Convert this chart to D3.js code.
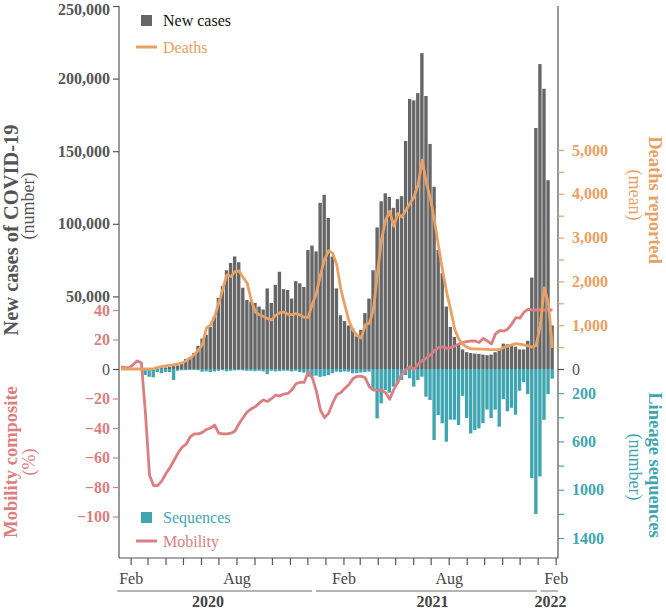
<!DOCTYPE html>
<html><head><meta charset="utf-8">
<script src="https://cdn.jsdelivr.net/npm/d3@7"></script>
<style>
body{margin:0;background:#fff}
svg{display:block}
text{font-family:"Liberation Serif","Times New Roman",serif}
</style>
</head><body>
<svg id="c" width="666" height="610"></svg>
<script>
// ---- data (weekly, weeks starting Sunday 2020-01-12) ----
const firstWeek = "2020-01-12";
const cases = [0,0,0,0,0,0,0,0,100,300,600,1000,1500,2000,2500,3500,7000,8000,11000,16000,
  21000,23500,29000,36000,49000,57000,68000,73000,77500,73500,56000,47500,46500,45500,43000,41000,
  55500,45500,58000,67000,55000,54500,48500,60500,59000,56500,82000,85000,81000,114500,120000,104000,
  77500,55500,37000,33000,30000,28000,22500,27000,38500,48500,68000,97500,115500,121000,118500,111000,
  117000,119000,157000,186000,185000,190000,217500,188000,155000,125500,82000,66000,43000,29000,22000,
  17000,13500,11600,11000,10600,10400,9900,9500,9900,11600,13500,17500,17000,17000,15400,13500,13500,
  19400,63000,166000,210000,193000,130000,30000];
const deaths = [0,0,0,0,0,0,0,0,10,35,53,70,85,100,120,140,190,250,330,430,560,936,1000,1200,1510,
  1820,2150,2110,2222,2240,2090,1960,1570,1300,1240,1200,1150,1120,1230,1280,1300,1250,1240,1265,1230,
  1180,1180,1480,1730,2150,2500,2700,2640,2380,1820,1450,1100,880,770,707,1010,1043,1350,2185,2950,
  3400,3600,3260,3550,3470,3630,3780,3934,4210,4770,4250,3900,3400,2800,2250,1750,1350,900,680,560,
  500,460,460,455,455,450,443,443,445,490,520,550,578,565,550,530,500,540,1000,1850,1500,480];
const mobility = [1.5,1,1,3,5.5,4,-30,-72,-79,-79,-76,-71,-67,-62,-57,-53,-51,-46,-44,-44,-43,-41,-40,
  -38,-43.5,-44,-44,-43.5,-42,-37,-33,-29,-27,-25.5,-23,-21,-22,-20,-17.7,-18.3,-17,-16.6,-14,-10,-9,
  -9,-2,-6,-15,-28,-33,-30,-23,-17.5,-16,-13,-10.5,-6.5,-5,-4.8,-6,-12,-14.3,-14.3,-14.4,-16,-20.5,
  -14,-9,-3.5,-0.5,1.5,-0.2,3.5,5.5,7.5,9.5,12.5,14.5,15,14,14.5,15.5,17,18,18.5,19,19,18,20.8,19,17,
  23.8,26,25.8,27,30.5,34.8,34.5,38.5,40.5,40,40,40,40,40,40];
const sequences = [0,0,0,0,0,0,50,64,69,25,35,25,25,91,15,10,10,8,8,10,22,20,25,20,15,10,20,15,12,10,
  12,15,15,18,15,20,41,15,20,18,15,15,20,15,25,30,64,62,55,65,60,50,35,22,25,20,22,36,34,29,25,22,174,
  409,285,174,196,146,119,91,50,77,146,91,64,229,257,588,381,450,602,420,420,464,222,406,534,505,492,
  449,336,406,336,478,250,350,322,379,180,109,208,903,1201,890,421,208,80];
const caseTicks = [50000,100000,150000,200000,250000];
const mobilityTicks = [40,20,-20,-40,-60,-80,-100];
const deathTicks = [500,1000,1500,2000,2500,3000,3500,4000,4500,5000];
const deathLabels = [1000,2000,3000,4000,5000];
const seqTicks = [200,400,600,800,1000,1200,1400];
const seqLabels = [200,600,1000,1400];
const monthLabels = {1:"Feb",7:"Aug"};
const years = [
  {label:"2020", from:"2020-01-09", to:"2020-12-09", at:"2020-06-13"},
  {label:"2021", from:"2020-12-16", to:"2021-12-31", at:"2021-07-04"},
  {label:"2022", from:"2022-01-06", to:"2022-02-05", at:"2022-01-23"}
];

// ---- colours ----
const C = {bar:"#666666", death:"#e8a163", mob:"#db7e80", seq:"#3fa6b1", axis:"#555555", txt:"#555555"};

const svg = d3.select("#c");
const parse = d3.utcParse("%Y-%m-%d");
const t0 = parse(firstWeek);
const weeks = cases.map((_, i) => d3.utcDay.offset(t0, 7 * i));

const L = 119, R = 558, TOP = 6, BOT = 558, ZERO = 369;
const x = d3.scaleUtc().domain([t0, parse("2022-02-05")]).range([L, R]);
const yCases = d3.scaleLinear().domain([0, 250000]).range([ZERO, TOP]);
const yDeaths = d3.scaleLinear().domain([0, 5000]).range([ZERO, 150]);
const yMob = d3.scaleLinear().domain([0, -100]).range([ZERO, 516.5]);
const ySeq = d3.scaleLinear().domain([0, 1400]).range([ZERO, 538]);

const mid = d => d3.utcHour.offset(d, 84);

// cases bars
svg.append("g").selectAll("rect").data(cases).join("rect")
  .attr("x", (d, i) => x(weeks[i]))
  .attr("width", (d, i) => Math.max(0, x(d3.utcDay.offset(weeks[i], 7)) - x(weeks[i]) - 0.7))
  .attr("y", d => yCases(d))
  .attr("height", d => ZERO - yCases(d))
  .attr("fill", C.bar);

// sequences bars
svg.append("g").selectAll("rect").data(sequences).join("rect")
  .attr("x", (d, i) => x(weeks[i]))
  .attr("width", (d, i) => Math.max(0, x(d3.utcDay.offset(weeks[i], 7)) - x(weeks[i]) - 0.7))
  .attr("y", ZERO)
  .attr("height", d => ySeq(d) - ZERO)
  .attr("fill", C.seq);

// mobility line
svg.append("path").datum(mobility)
  .attr("fill", "none").attr("stroke", C.mob).attr("stroke-width", 2.8).attr("stroke-linejoin", "round")
  .attr("d", d3.line().x((d, i) => x(mid(weeks[i]))).y(d => yMob(d)));

// deaths line
svg.append("path").datum(deaths)
  .attr("fill", "none").attr("stroke", C.death).attr("stroke-width", 2.8).attr("stroke-linejoin", "round")
  .attr("d", d3.line().x((d, i) => x(mid(weeks[i]))).y(d => yDeaths(d)));

// axis frame lines
const frame = svg.append("g").attr("stroke", C.axis).attr("stroke-width", 1.2);
frame.append("line").attr("x1", L).attr("x2", L).attr("y1", TOP).attr("y2", BOT);
frame.append("line").attr("x1", R).attr("x2", R).attr("y1", TOP).attr("y2", BOT);
frame.append("line").attr("x1", L).attr("x2", R).attr("y1", BOT).attr("y2", BOT);

function styleAxis(g, color, bold) {
  g.select(".domain").remove();
  g.selectAll(".tick line").attr("stroke", color).attr("stroke-width", 1.2);
  g.selectAll(".tick text").attr("fill", color).attr("font-size", 16)
    .attr("font-weight", bold ? "bold" : "normal")
    .attr("font-family", '"Liberation Serif","Times New Roman",serif');
}

// left: cases
svg.append("g").attr("transform", `translate(${L},0)`)
  .call(d3.axisLeft(yCases).tickValues(caseTicks).tickFormat(d3.format(",")).tickSize(6).tickPadding(3))
  .call(g => styleAxis(g, C.txt, true))
  .call(g => g.selectAll(".tick text").attr("dy", (d, i) => i === caseTicks.length - 1 ? "0.55em" : "0.32em"));
// left: mobility
svg.append("g").attr("transform", `translate(${L},0)`)
  .call(d3.axisLeft(yMob).tickValues(mobilityTicks).tickFormat(d3.format("d")).tickSize(6).tickPadding(3))
  .call(g => styleAxis(g, C.mob, true));
// left zero
svg.append("g").attr("transform", `translate(${L},0)`)
  .call(d3.axisLeft(yCases).tickValues([0]).tickSize(6).tickPadding(3))
  .call(g => styleAxis(g, C.txt, false));

// right: deaths
svg.append("g").attr("transform", `translate(${R},0)`)
  .call(d3.axisRight(yDeaths).tickValues(deathTicks)
    .tickFormat(d => deathLabels.includes(d) ? d3.format(",")(d) : "").tickSize(6).tickPadding(8))
  .call(g => styleAxis(g, C.death, true));
// right: sequences
svg.append("g").attr("transform", `translate(${R},0)`)
  .call(d3.axisRight(ySeq).tickValues(seqTicks)
    .tickFormat(d => seqLabels.includes(d) ? String(d) : "").tickSize(6).tickPadding(8))
  .call(g => styleAxis(g, C.seq, true));
// right zero
svg.append("g").attr("transform", `translate(${R},0)`)
  .call(d3.axisRight(yDeaths).tickValues([0]).tickSize(6).tickPadding(8))
  .call(g => styleAxis(g, C.txt, false));

// bottom: months
const months = d3.utcMonth.range(parse("2020-02-01"), parse("2022-02-02"));
svg.append("g").attr("transform", `translate(0,${BOT})`)
  .call(d3.axisBottom(x).tickValues(months)
    .tickFormat(d => monthLabels[d.getUTCMonth()] || "").tickSize(7).tickPadding(8))
  .call(g => {
    styleAxis(g, "#444", false);
    g.selectAll(".tick line").attr("stroke", C.axis);
  });

// year groups
const yg = svg.append("g");
yg.selectAll("line").data(years).join("line")
  .attr("x1", d => x(parse(d.from))).attr("x2", d => x(parse(d.to)))
  .attr("y1", 591).attr("y2", 591).attr("stroke", "#9a9a9a").attr("stroke-width", 1.4);
yg.selectAll("text").data(years).join("text")
  .attr("x", d => x(parse(d.at))).attr("y", 607).attr("text-anchor", "middle")
  .attr("font-size", 16).attr("font-weight", "bold").attr("fill", "#444").text(d => d.label);

// axis titles
function vtitle(txt, cx, cy, rot, size, weight, color) {
  svg.append("text").attr("transform", `translate(${cx},${cy}) rotate(${rot})`)
    .attr("text-anchor", "middle").attr("dy", "0.35em")
    .attr("font-size", size).attr("font-weight", weight).attr("fill", color).text(txt);
}
vtitle("New cases of COVID-19", 11, 230, -90, 20.5, "bold", C.txt);
vtitle("(number)", 28, 206, -90, 18, "normal", C.txt);
vtitle("Mobility composite", 10.5, 462, -90, 18.5, "bold", C.mob);
vtitle("(%)", 29, 462, -90, 18, "normal", C.mob);
vtitle("Deaths reported", 655, 200, 90, 18.5, "bold", C.death);
vtitle("(mean)", 635, 195, 90, 18, "normal", C.death);
vtitle("Lineage sequences", 655, 465, 90, 18.5, "bold", C.seq);
vtitle("(number)", 635, 467, 90, 18, "normal", C.seq);

// legends
const lg = svg.append("g").attr("font-size", 16);
lg.append("rect").attr("x", 141).attr("y", 15).attr("width", 11).attr("height", 11).attr("fill", C.bar);
lg.append("text").attr("x", 163).attr("y", 26).attr("fill", "#111").text("New cases");
lg.append("line").attr("x1", 136).attr("x2", 157).attr("y1", 47).attr("y2", 47)
  .attr("stroke", C.death).attr("stroke-width", 3);
lg.append("text").attr("x", 163).attr("y", 53).attr("fill", C.death).text("Deaths");
lg.append("rect").attr("x", 141).attr("y", 512).attr("width", 11).attr("height", 11).attr("fill", C.seq);
lg.append("text").attr("x", 163).attr("y", 523).attr("fill", C.seq).text("Sequences");
lg.append("line").attr("x1", 136).attr("x2", 157).attr("y1", 541).attr("y2", 541)
  .attr("stroke", C.mob).attr("stroke-width", 3);
lg.append("text").attr("x", 163).attr("y", 547).attr("fill", C.mob).text("Mobility");
</script>
</body></html>
